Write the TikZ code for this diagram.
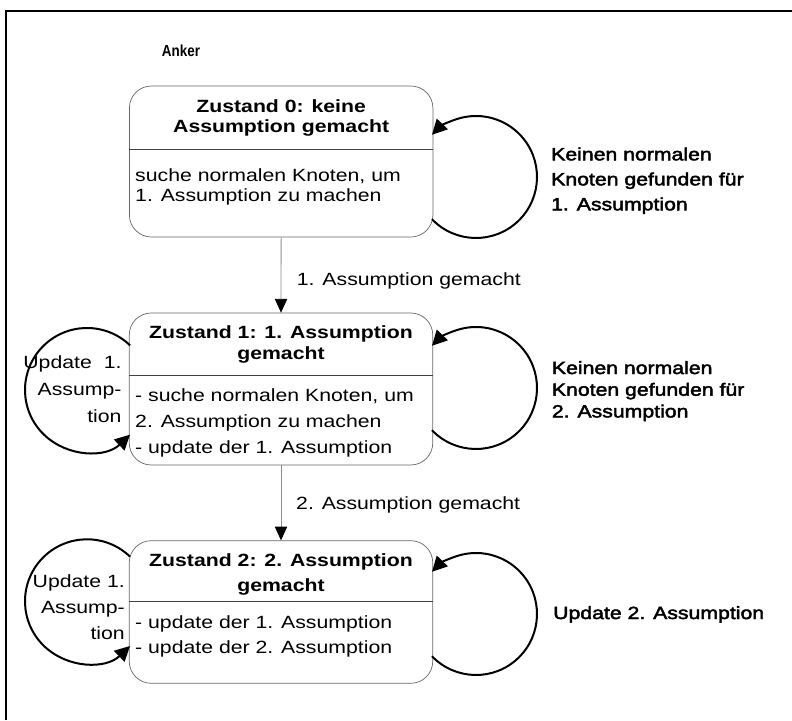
\documentclass[tikz,border=0pt]{standalone}
\usepackage{fontspec}
\setmainfont{Liberation Sans}[FakeStretch=1.2]
\newfontfamily\titlefont{Liberation Sans Bold}[FakeStretch=1.2]
\newfontfamily\heavyfont{Liberation Sans}[FakeStretch=1.2,FakeBold=2.5]
\newfontfamily\ankerfont{Liberation Sans Bold}[FakeStretch=0.84]
\usetikzlibrary{arrows.meta,calc}
\begin{document}
\begin{tikzpicture}[x=1pt,y=1pt,
  stbox/.style={draw=black!60, line width=0.7pt, rounded corners=22pt,
                minimum width=303.5pt, inner sep=0pt},
  divline/.style={draw=black!75, line width=0.9pt},
  ttl/.style={inner sep=0pt, anchor=north, align=center},
  heavy/.style={inner sep=0pt, anchor=north west, align=left},
  trans/.style={draw=black!45, line width=0.8pt,
                -{Triangle[length=13.7pt,width=12.3pt,color=black]}},
  loopline/.style={draw=black, line width=2pt,
                -{Triangle[length=15pt,width=15pt]}}
]
\useasboundingbox (0,0) rectangle (792,720);
% frame
\draw[line width=2pt] (5.7,0) -- (5.7,709) -- (792,709);

\node[inner sep=0pt, anchor=north, font=\ankerfont\fontsize{16}{18}\selectfont] (anker) at (181,675) {Anker};

% state boxes
\node[stbox, minimum height=151pt] (b0) at (281.15,558.5) {};
\node[stbox, minimum height=152pt] (b1) at (281,331) {};
\node[stbox, minimum height=142.6pt] (b2) at (281,108) {};

\coordinate (d0) at (0,571);
\coordinate (d1) at (0,345);
\coordinate (d2) at (0,118.3);
\draw[divline] (b0.west |- d0) -- (b0.east |- d0);
\draw[divline] (b1.west |- d1) -- (b1.east |- d1);
\draw[divline] (b2.west |- d2) -- (b2.east |- d2);

% titles
\node[ttl, font=\titlefont\fontsize{17.7}{20}\selectfont] (t0) at (281.15,620.7) {Zustand 0: keine\\Assumption gemacht};
\node[ttl, font=\titlefont\fontsize{17.7}{21}\selectfont] (t1) at (281,394.3) {Zustand 1: 1. Assumption\\gemacht};
\node[ttl, font=\titlefont\fontsize{17.7}{25}\selectfont] (t2) at (281,166.7) {Zustand 2: 2. Assumption\\gemacht};

% bodies
\node[inner sep=0pt, anchor=north west, align=left, font=\fontsize{17.7}{20}\selectfont] (x0) at (135,551.7) {suche normalen Knoten, um\\1. Assumption zu machen};
\node[inner sep=0pt, anchor=north west, align=left, font=\fontsize{17.7}{26}\selectfont] (x1) at (135,331.7) {- suche normalen Knoten, um\\2. Assumption zu machen\\- update der 1. Assumption};
\node[inner sep=0pt, anchor=north west, align=left, font=\fontsize{17.7}{25}\selectfont] (x2) at (135,105) {- update der 1. Assumption\\- update der 2. Assumption};

% transitions
\draw[trans] (b0.south) -- (b1.north);
\draw[trans] (b1.south) -- (b2.north);
\node[inner sep=0pt, anchor=north west, font=\fontsize{17.7}{20}\selectfont] (e1) at (296.7,447.3) {1. Assumption gemacht};
\node[inner sep=0pt, anchor=north west, font=\fontsize{17.7}{20}\selectfont] (e2) at (296,224) {2. Assumption gemacht};

% right self loops
\coordinate (c0) at (476,543);
\coordinate (c1r) at (476,332);
\coordinate (c2r) at (476,106);
\draw[loopline] ($(c0)+(-136.2:61pt)$) arc[start angle=-136.2, end angle=136.2, radius=61pt];
\draw[loopline] ($(c1r)+(-136.2:61pt)$) arc[start angle=-136.2, end angle=136.2, radius=61pt];
\draw[loopline] ($(c2r)+(-136.2:61pt)$) arc[start angle=-136.2, end angle=136.2, radius=61pt];

% left self loops
\coordinate (c1l) at (87,330);
\coordinate (c2l) at (87,118.7);
\draw[loopline] ($(c1l)+(46.1:62pt)$) arc[start angle=46.1, end angle=313.9, radius=62pt];
\draw[loopline] ($(c2l)+(46.1:62pt)$) arc[start angle=46.1, end angle=313.9, radius=62pt];

% loop labels
\node[heavy, font=\heavyfont\fontsize{17.7}{25}\selectfont] (r0) at (551,572.7) {Keinen normalen\\Knoten gefunden für\\1. Assumption};
\node[heavy, font=\heavyfont\fontsize{17.7}{21.7}\selectfont] (r1) at (551.7,359) {Keinen normalen\\Knoten gefunden für\\2. Assumption};
\node[heavy, font=\heavyfont\fontsize{17.7}{20}\selectfont] (r2) at (553,114) {Update 2. Assumption};

\node[inner sep=0pt, anchor=north east, align=right, font=\fontsize{17.7}{27}\selectfont] (l1) at (121.7,365) {Update\hspace{6pt} 1.\\Assump-\\tion};
\node[inner sep=0pt, anchor=north east, align=right, font=\fontsize{17.7}{26}\selectfont] (l2) at (125,146) {Update 1.\\Assump-\\tion};
\end{tikzpicture}
\end{document}
